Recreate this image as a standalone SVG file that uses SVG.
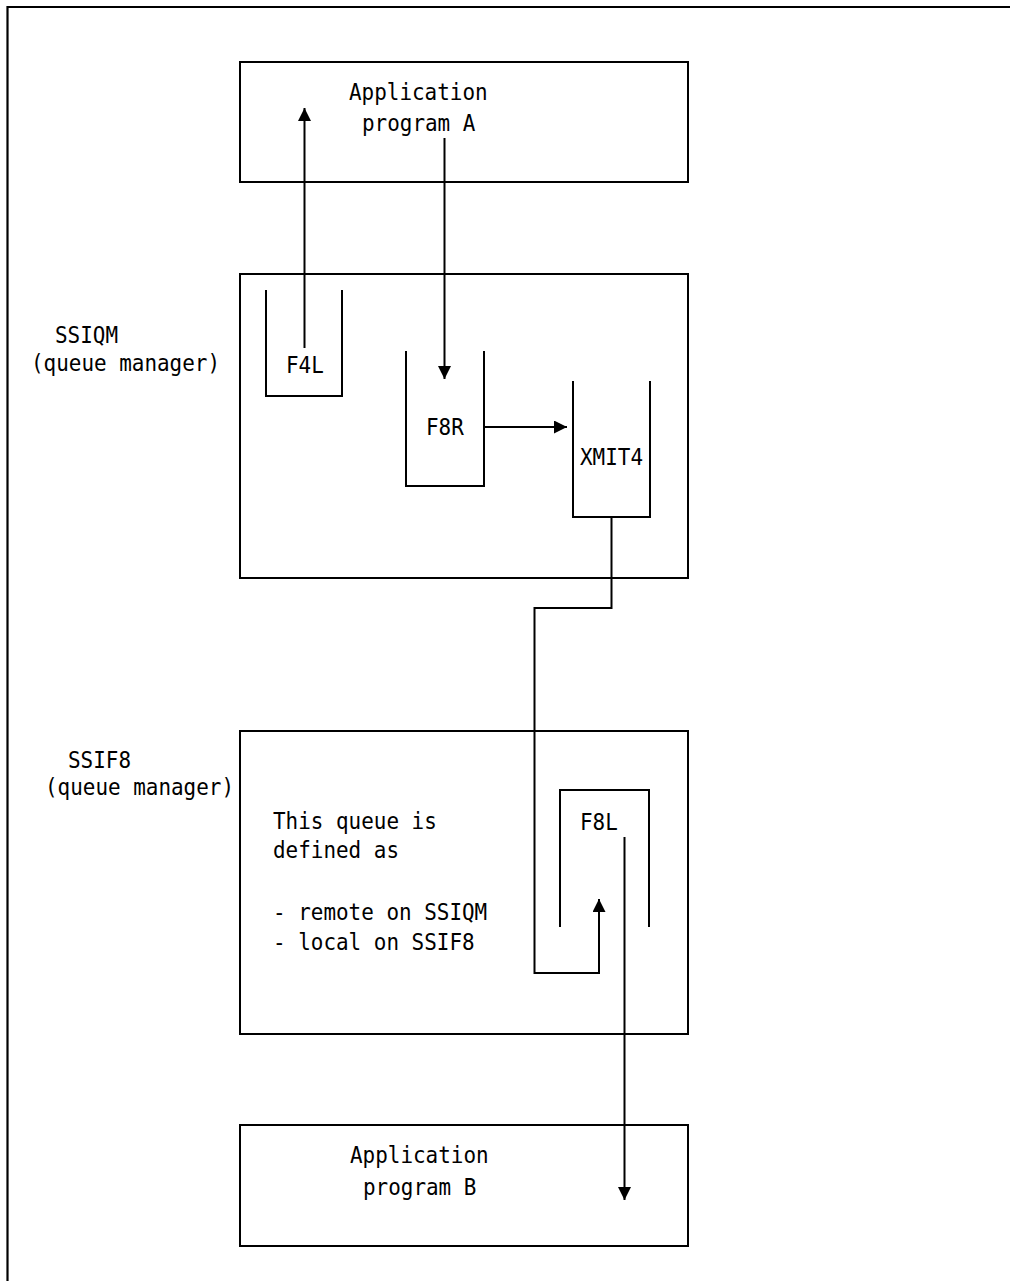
<svg xmlns="http://www.w3.org/2000/svg" width="1010" height="1281" viewBox="0 0 1010 1281">
<style>
  .box { fill: none; stroke: #000; stroke-width: 2; }
  .ln { fill: none; stroke: #000; stroke-width: 2; }
  .frame { fill: none; stroke: #000; stroke-width: 2.2; }
  text { font-family: "DejaVu Sans Mono", "Liberation Mono", monospace; font-size: 23px; fill: #000; }
</style>
<defs>
  <marker id="arr" markerUnits="userSpaceOnUse" markerWidth="14" markerHeight="14" refX="13" refY="6.5" orient="auto">
    <path d="M0,0 L13,6.5 L0,13 z" fill="#000"/>
  </marker>
</defs>
<rect width="1010" height="1281" fill="#fff"/>
<polyline class="frame" points="1010,7 7.5,7 7.5,1281"/>

<g id="appA">
  <rect class="box" x="240" y="62" width="448" height="120"/>
  <text x="349" y="100" textLength="138.6" lengthAdjust="spacingAndGlyphs">Application</text>
  <text x="362" y="131" textLength="113.4" lengthAdjust="spacingAndGlyphs">program A</text>
</g>

<g id="ssiqm">
  <rect class="box" x="240" y="274" width="448" height="304"/>
  <text x="55" y="343" textLength="63" lengthAdjust="spacingAndGlyphs">SSIQM</text>
  <text x="31" y="371" textLength="189" lengthAdjust="spacingAndGlyphs">(queue manager)</text>
</g>

<g id="f4l">
  <polyline class="ln" points="266,290 266,396 342,396 342,290"/>
  <text x="286" y="373" textLength="37.8" lengthAdjust="spacingAndGlyphs">F4L</text>
</g>

<g id="f8r">
  <polyline class="ln" points="406,351 406,486 484,486 484,351"/>
  <text x="426" y="435" textLength="37.8" lengthAdjust="spacingAndGlyphs">F8R</text>
</g>

<g id="xmit4">
  <polyline class="ln" points="573,381 573,517 650,517 650,381"/>
  <text x="580" y="465" textLength="63" lengthAdjust="spacingAndGlyphs">XMIT4</text>
</g>

<g id="ssif8">
  <rect class="box" x="240" y="731" width="448" height="303"/>
  <text x="68" y="768" textLength="63" lengthAdjust="spacingAndGlyphs">SSIF8</text>
  <text x="45" y="795" textLength="189" lengthAdjust="spacingAndGlyphs">(queue manager)</text>
  <text x="273" y="829" textLength="163.8" lengthAdjust="spacingAndGlyphs">This queue is</text>
  <text x="273" y="858" textLength="126" lengthAdjust="spacingAndGlyphs">defined as</text>
  <text x="273" y="920" textLength="214.2" lengthAdjust="spacingAndGlyphs">- remote on SSIQM</text>
  <text x="273" y="950" textLength="201.6" lengthAdjust="spacingAndGlyphs">- local on SSIF8</text>
</g>

<g id="f8l">
  <polyline class="ln" points="560,927 560,790 649,790 649,927"/>
  <text x="580" y="830" textLength="37.8" lengthAdjust="spacingAndGlyphs">F8L</text>
</g>

<g id="appB">
  <rect class="box" x="240" y="1125" width="448" height="121"/>
  <text x="350" y="1163" textLength="138.6" lengthAdjust="spacingAndGlyphs">Application</text>
  <text x="363" y="1195" textLength="113.4" lengthAdjust="spacingAndGlyphs">program B</text>
</g>

<g id="connectors">
  <line class="ln" x1="304.5" y1="348" x2="304.5" y2="108" marker-end="url(#arr)"/>
  <line class="ln" x1="444.5" y1="138" x2="444.5" y2="379" marker-end="url(#arr)"/>
  <line class="ln" x1="484" y1="427" x2="567" y2="427" marker-end="url(#arr)"/>
  <polyline class="ln" points="611.5,517 611.5,608 534.5,608 534.5,973 599,973 599,899" marker-end="url(#arr)"/>
  <line class="ln" x1="624.5" y1="837" x2="624.5" y2="1200" marker-end="url(#arr)"/>
</g>
</svg>
